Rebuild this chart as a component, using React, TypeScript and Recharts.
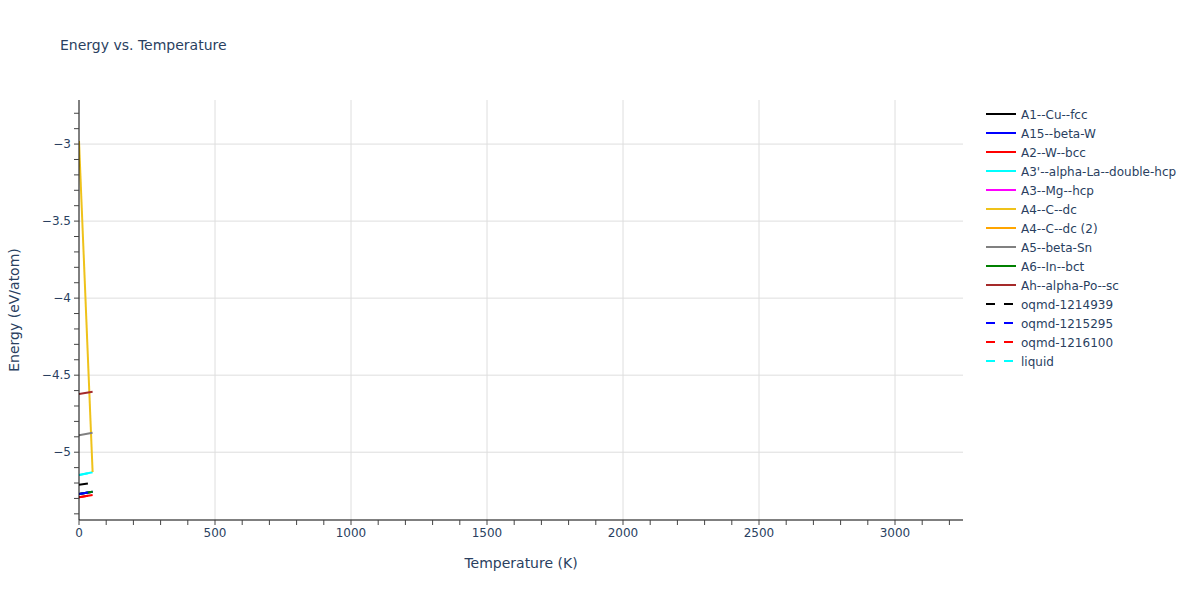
import React from "react";
import { LineChart, Line, XAxis, YAxis, CartesianGrid } from "recharts";

const temps = [0, 50];

const seriesNames = [
  "A1--Cu--fcc",
  "A15--beta-W",
  "A2--W--bcc",
  "A3'--alpha-La--double-hcp",
  "A3--Mg--hcp",
  "A4--C--dc",
  "A4--C--dc (2)",
  "A5--beta-Sn",
  "A6--In--bct",
  "Ah--alpha-Po--sc",
  "oqmd-1214939",
  "oqmd-1215295",
  "oqmd-1216100",
  "liquid",
];
const seriesColors = [
  "#000000",
  "#0000ff",
  "#ff0000",
  "#00ffff",
  "#ff00ff",
  "#efc21a",
  "#ffa500",
  "#808080",
  "#008000",
  "#a52a2a",
  "#000000",
  "#0000ff",
  "#ff0000",
  "#00ffff",
];
const seriesDashed = [false, false, false, false, false, false, false, false, false, false, true, true, true, true];

const a1CuFcc = [-5.272, -5.256];
const a15BetaW = [-5.272, -5.256];
const a2WBcc = [-5.292, -5.278];
const a3pAlphaLa = [-5.148, -5.130];
const a3MgHcp = [-5.148, null];
const a4CDc = [-2.98, -5.128];
const a4CDc2 = [-2.98, null];
const a5BetaSn = [-4.89, -4.874];
const a6InBct = [-5.272, -5.256];
const ahAlphaPo = [-4.622, -4.608];
const oqmd1214939 = [-5.212, -5.198];
const oqmd1215295 = [-5.272, -5.256];
const oqmd1216100 = [-5.292, -5.278];
const liquid = [-5.148, -5.130];

const seriesValues = [
  a1CuFcc,
  a15BetaW,
  a2WBcc,
  a3pAlphaLa,
  a3MgHcp,
  a4CDc,
  a4CDc2,
  a5BetaSn,
  a6InBct,
  ahAlphaPo,
  oqmd1214939,
  oqmd1215295,
  oqmd1216100,
  liquid,
];

const xTicks = [
  0, 100, 200, 300, 400, 500, 600, 700, 800, 900, 1000, 1100, 1200, 1300, 1400, 1500, 1600,
  1700, 1800, 1900, 2000, 2100, 2200, 2300, 2400, 2500, 2600, 2700, 2800, 2900, 3000, 3100, 3200,
];
const xGrid = [500, 1000, 1500, 2000, 2500, 3000];
const yTicks = [
  -5.4, -5.3, -5.2, -5.1, -5.0, -4.9, -4.8, -4.7, -4.6, -4.5, -4.4, -4.3, -4.2, -4.1, -4.0,
  -3.9, -3.8, -3.7, -3.6, -3.5, -3.4, -3.3, -3.2, -3.1, -3.0, -2.9, -2.8,
];
const yGrid = [-5, -4.5, -4, -3.5, -3];

const data = temps.map((t, i) => {
  const row: Record<string, number | null> = { T: t };
  seriesNames.forEach((n, k) => {
    row[n] = seriesValues[k][i] as number | null;
  });
  return row;
});

const FONT = '"DejaVu Sans", Verdana, sans-serif';
const TXT = "#2a3f5f";

const xFmt = (v: number) => (v % 500 === 0 ? String(v) : "");
const yFmt = (v: number) => {
  const d = v * 2;
  if (Math.abs(d - Math.round(d)) > 1e-6) return "";
  const s = String(Math.abs(Math.round(v * 10) / 10));
  return v < 0 ? "\u2212" + s : s;
};

export default function App() {
  return (
    <div style={{ position: "absolute", left: 0, top: 0, width: 1200, height: 600, background: "#fff", fontFamily: FONT }}>
      <LineChart
        width={1200}
        height={600}
        data={data}
        margin={{ top: 100, right: 237, bottom: 0, left: 0 }}
      >
        <CartesianGrid
          stroke="#dedede"
          strokeWidth={1}
          horizontalValues={yGrid}
          verticalValues={xGrid}
        />
        <XAxis
          dataKey="T"
          type="number"
          domain={[0, 3250]}
          ticks={xTicks}
          interval={0}
          tickFormatter={xFmt}
          height={80}
          tickSize={5}
          tickMargin={3}
          stroke="#000"
          tickLine={{ stroke: "#444" }}
          tick={{ fill: TXT, fontSize: 12, fontFamily: FONT }}
          allowDataOverflow
        />
        <YAxis
          type="number"
          domain={[-5.44, -2.714]}
          ticks={yTicks}
          interval={0}
          tickFormatter={yFmt}
          width={79}
          tickSize={5}
          tickMargin={3}
          stroke="#000"
          tickLine={{ stroke: "#444" }}
          tick={{ fill: TXT, fontSize: 12, fontFamily: FONT }}
          allowDataOverflow
        />
        {seriesNames.map((n, k) => (
          <Line
            key={n}
            dataKey={n}
            type="linear"
            stroke={seriesColors[k]}
            strokeWidth={2}
            strokeDasharray={seriesDashed[k] ? "9 9" : undefined}
            dot={false}
            activeDot={false}
            isAnimationActive={false}
            connectNulls={false}
          />
        ))}
      </LineChart>
      <svg
        width={1200}
        height={600}
        style={{ position: "absolute", left: 0, top: 0, pointerEvents: "none" }}
      >
        <text x={60} y={50} fontSize={14} fill={TXT} fontFamily={FONT}>
          Energy vs. Temperature
        </text>
        <text x={521} y={568} fontSize={14} fill={TXT} fontFamily={FONT} textAnchor="middle">
          Temperature (K)
        </text>
        <text
          x={19}
          y={310}
          fontSize={14}
          fill={TXT}
          fontFamily={FONT}
          textAnchor="middle"
          transform="rotate(-90 19 310)"
        >
          Energy (eV/atom)
        </text>
        {seriesNames.map((n, k) => {
          const y = 114 + k * 19;
          return (
            <g key={n}>
              <line
                x1={986}
                x2={1016}
                y1={y}
                y2={y}
                stroke={seriesColors[k]}
                strokeWidth={2}
                strokeDasharray={seriesDashed[k] ? "9 9" : undefined}
              />
              <text x={1021} y={y + 4.5} fontSize={12} fill={TXT} fontFamily={FONT}>
                {n}
              </text>
            </g>
          );
        })}
      </svg>
    </div>
  );
}
